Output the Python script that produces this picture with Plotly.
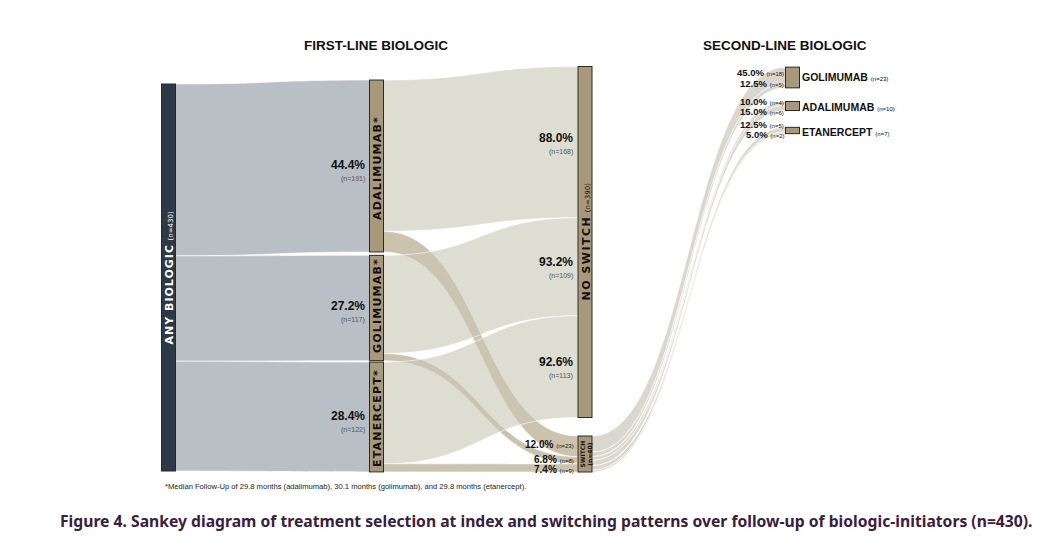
import plotly.graph_objects as go

# Data
node_labels = ['ANY BIOLOGIC',
               'ADALIMUMAB*', 'GOLIMUMAB*', 'ETANERCEPT*',
               'NO SWITCH', 'SWITCH',
               'GOLIMUMAB', 'ADALIMUMAB', 'ETANERCEPT']

link_source = [0, 0, 0,
               1, 1, 2, 2, 3, 3,
               5, 5, 5, 5, 5, 5]
link_target = [1, 2, 3,
               4, 5, 4, 5, 4, 5,
               6, 6, 7, 7, 8, 8]
link_value = [191, 117, 122,
              168, 23, 109, 8, 113, 9,
              18, 5, 4, 6, 5, 2]

total_n = 430
switch_n = 40

footnote = ('*Median Follow-Up of 29.8 months (adalimumab), 30.1 months (golimumab), '
            'and 29.8 months (etanercept).')
caption = ('Figure 4. Sankey diagram of treatment selection at index and switching patterns '
           'over follow-up of biologic-initiators (n=430).')

# Layout helpers: page pixels -> paper (page body has an 8px margin)
W, H = 1041, 546
OFF = 8
def px(x):
    return (x - OFF) / W
def py(y):
    return 1 - (y - OFF) / H

dom_top, dom_bot = 74, 479

# node centres in page pixels
node_cx = [168.5, 376.5, 376.5, 376.5, 585, 585, 792.5, 792.5, 792.5]
node_cy = [277.5, 166, 308, 417, 242, 454, 77.5, 106, 130.5]
node_x = [(c - OFF) / W for c in node_cx]
node_y = [(c - dom_top) / (dom_bot - dom_top) for c in node_cy]

tan = '#a8997a'
node_colors = ['#2c3a47'] + [tan] * 8

link_colors = []
for s, t in zip(link_source, link_target):
    if s == 0:
        link_colors.append('rgba(176,184,191,0.9)')
    elif t == 4:
        link_colors.append('rgba(200,198,180,0.6)')
    elif t == 5:
        link_colors.append('rgba(168,155,120,0.6)')
    else:
        link_colors.append('rgba(205,203,190,0.75)')

fig = go.Figure(go.Sankey(
    arrangement='fixed',
    domain=dict(x=[0, 1], y=[py(dom_bot), py(dom_top)]),
    node=dict(
        label=[''] * len(node_labels),
        customdata=node_labels,
        hovertemplate='%{customdata}: %{value}<extra></extra>',
        x=node_x, y=node_y,
        pad=6, thickness=14,
        color=node_colors,
        line=dict(color='#2a2a22', width=1),
    ),
    link=dict(
        source=link_source, target=link_target, value=link_value,
        color=link_colors,
        line=dict(color='white', width=0.6),
    ),
))

narrow = 'Liberation Sans'
wide = 'DejaVu Sans'
annos = []

def add(text, x, y, size, color='#111', family=narrow, xanchor='center',
        angle=0, bold=False):
    if bold:
        text = '<b>' + text + '</b>'
    annos.append(dict(text=text, x=px(x), y=py(y), xref='paper', yref='paper',
                      showarrow=False, xanchor=xanchor, yanchor='middle',
                      textangle=angle, font=dict(size=size, color=color, family=family)))

def small(t, s=6):
    return f'<span style="font-size:{s}px;font-weight:normal">{t}</span>'

def spaced(t, sp):
    return f'<span style="letter-spacing:{sp}px">{t}</span>'

add('FIRST-LINE BIOLOGIC', 376, 46, 13.5, bold=True)
add('SECOND-LINE BIOLOGIC', 785, 46, 13.5, bold=True)

# rotated node names
add('<b>' + spaced('ANY BIOLOGIC', 1) + '</b> ' + small(f'(n={total_n})', 7),
    168.5, 278, 11, color='white', family=wide, angle=-90)
first_line_n = link_value[0:3]
for i, cy in zip(range(3), [168, 306, 418]):
    add('<b>' + spaced(node_labels[i + 1], 1.2) + '</b>', 377, cy, 11,
        family=wide, angle=-90)
no_switch_n = sum(v for t, v in zip(link_target, link_value) if t == 4)
add('<b>' + spaced('NO SWITCH', 1.5) + '</b> ' + small(f'(n={no_switch_n})', 7),
    585.5, 242, 11, family=wide, angle=-90)
add(f'<b>SWITCH<br>(n={switch_n})</b>', 585.5, 454, 6, family=wide, angle=-90)

# first-line percentages
for v, cy in zip(first_line_n, [165, 306, 416]):
    add(f'{100 * v / total_n:.1f}%', 367, cy, 12, xanchor='right', bold=True)
    add(f'(n={v})', 367, cy + 14, 7, color='#555', xanchor='right')

# no switch percentages
for v, n, cy in zip([168, 109, 113], first_line_n, [138, 262, 362]):
    add(f'{100 * v / n:.1f}%', 575, cy, 12, xanchor='right', bold=True)
    add(f'(n={v})', 575, cy + 14, 7, color='#555', xanchor='right')

# switch percentages
for v, n, cy in zip([23, 8, 9], first_line_n, [444, 460, 469]):
    add(f'<b>{100 * v / n:.1f}%</b> ' + small(f'(n={v})'), 576, cy, 10,
        xanchor='right')

# second-line percentages
for v, cy in zip(link_value[9:], [72, 84, 101, 111, 124, 134]):
    add(f'<b>{100 * v / switch_n:.1f}%</b> ' + small(f'(n={v})'), 786, cy, 9.5,
        xanchor='right')

second_n = [23, 10, 7]
for i, cy in zip(range(3), [77, 107, 132]):
    add(f'<b>{node_labels[i + 6]}</b> ' + small(f'(n={second_n[i]})'), 800, cy, 10.5,
        xanchor='left')

add(footnote, 163, 486, 7.6, color='#222', xanchor='left')
add(caption, 546, 521, 15.7, color='#3a2040', family='Noto Sans', bold=True)

fig.update_layout(
    width=W, height=H,
    margin=dict(l=0, r=0, t=0, b=0),
    paper_bgcolor='white',
    annotations=annos,
)

fig.write_html('out.html')
